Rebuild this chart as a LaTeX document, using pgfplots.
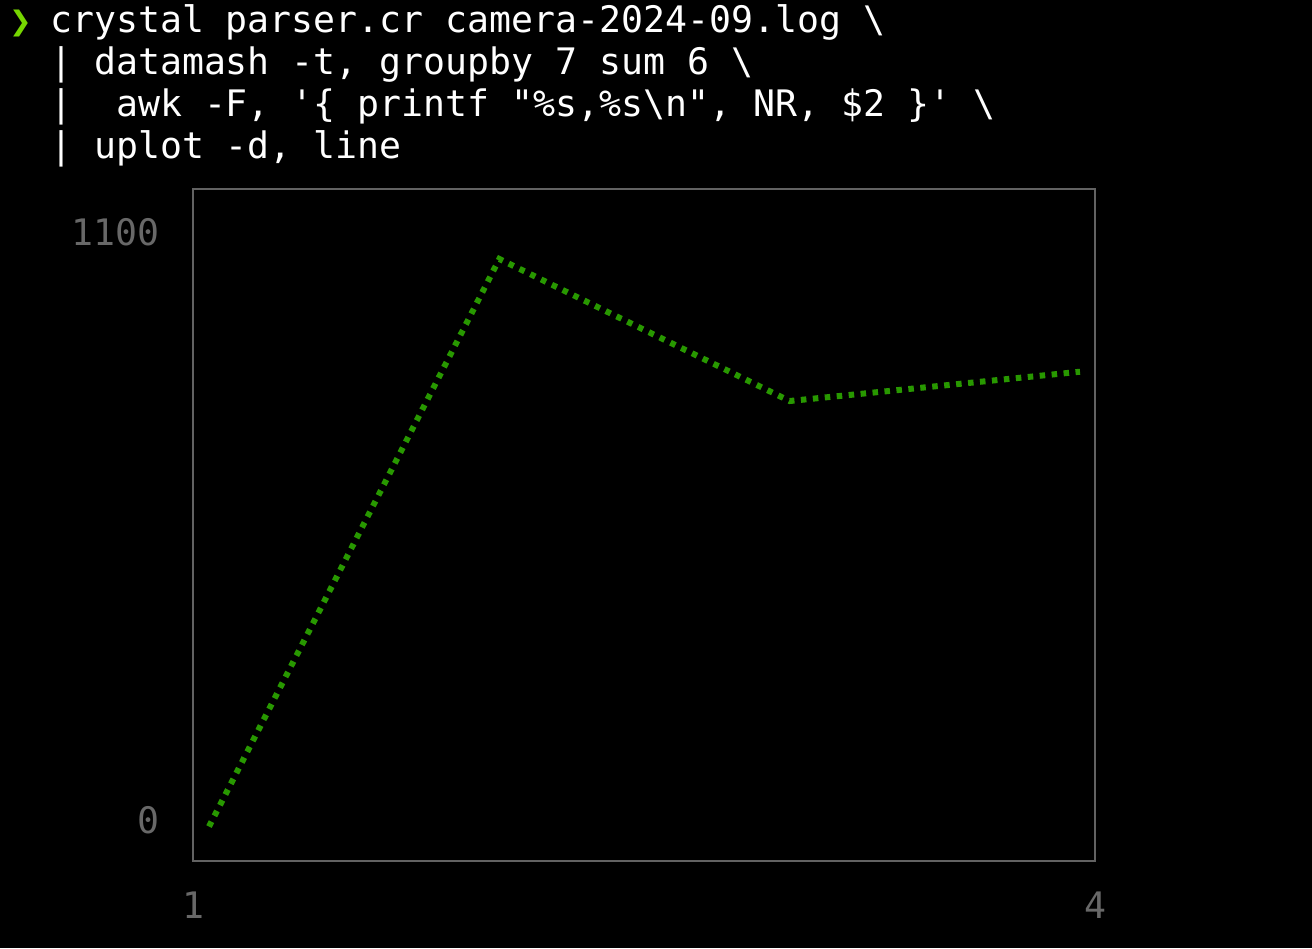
\documentclass[border=0pt]{standalone}
\usepackage{fontspec}
\setmonofont{DejaVu Sans Mono}
\newfontfamily\symfont{DejaVu Sans}
\usepackage{pgfplots}
\pgfplotsset{compat=1.18}
\definecolor{dotgreen}{RGB}{40,152,0}
\definecolor{promptgreen}{RGB}{118,214,0}
\definecolor{boxgray}{RGB}{98,98,98}
\definecolor{labgray}{RGB}{104,104,104}
\begin{document}
\begin{tikzpicture}[x=1pt,y=1pt]
\fill[black] (0,0) rectangle (1312,948);
\useasboundingbox (0,0) rectangle (1312,948);
\begin{scope}[every node/.style={inner sep=0pt, anchor=base west, text=white, font=\ttfamily\fontsize{36.5}{42}\selectfont}]
\node[text=promptgreen, font=\symfont\fontsize{27}{30}\selectfont] at (9,{948-31}) {❯};
\node at (50,{948-33}) {crystal parser.cr camera-2024-09.log \textbackslash};
\node at (50,{948-75}) {| datamash -t, groupby 7 sum 6 \textbackslash};
\node at (50,{948-117}) {|\ \ awk -F, '\{ printf "\%s,\%s\textbackslash n", NR, \$2 \}' \textbackslash};
\node at (50,{948-159}) {| uplot -d, line};
\end{scope}
\begin{axis}[
  at={(193pt,87pt)}, anchor=south west,
  scale only axis, width=902pt, height=672pt,
  xmin=0.94489, xmax=4.05167,
  ymin=-46.13, ymax=1146.2,
  axis background/.style={fill=black},
  axis line style={boxgray, line width=2.2pt},
  major tick length=0pt,
  xtick={0.94489,4.05167}, xticklabels={{\hbox{1}},{\hbox{4}}},
  ytick={26.6,1069.9}, yticklabels={{\hbox{0}},{\hbox{1100}}},
  tick label style={text=labgray, font=\ttfamily\fontsize{36.5}{42}\selectfont, inner sep=0pt},
  xticklabel style={anchor=north, yshift=-31pt},
  yticklabel style={anchor=east, xshift=-33pt},
  clip=false,
]
\addplot[dotgreen, line width=6pt, dash pattern=on 5.5pt off 6.5pt, line cap=butt] coordinates {
  (1,15) (2,1022) (3,770) (4,822)
};
\end{axis}
\end{tikzpicture}
\end{document}
